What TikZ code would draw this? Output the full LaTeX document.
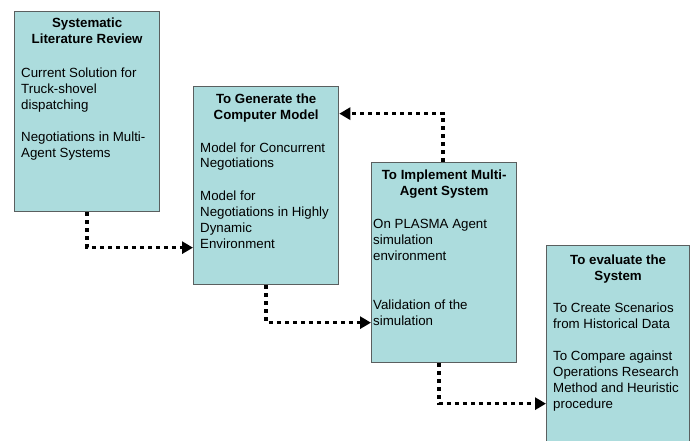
\documentclass[tikz,border=0pt]{standalone}
\usepackage{fontspec}
\setmainfont{Liberation Sans}
\usetikzlibrary{arrows.meta}
\definecolor{boxfill}{RGB}{172,220,221}
\definecolor{boxline}{RGB}{90,95,95}
\tikzset{
  stagebox/.style={draw=boxline, line width=1.3pt, fill=boxfill, anchor=north west, inner sep=0pt},
  titletext/.style={anchor=base, align=center, inner sep=0pt, font=\fontsize{13.3}{16}\selectfont\bfseries},
  bodytext/.style={anchor=base west, align=left, inner sep=0pt, font=\fontsize{13.3}{16}\selectfont},
  flow/.style={line width=3.4pt, dash pattern=on 4pt off 4pt, -{Triangle[length=11pt,width=12pt]}}
}
\begin{document}
\begin{tikzpicture}[x=1pt,y=-1pt]
\clip (0,0) rectangle (694,441);
\fill[white] (0,0) rectangle (694,441);
% boxes
\node[stagebox, minimum width=145pt, minimum height=200pt] (b1) at (14,11) {};
\node[stagebox, minimum width=145pt, minimum height=198pt] (b2) at (193,86) {};
\node[stagebox, minimum width=145pt, minimum height=200pt] (b3) at (371,162) {};
\node[stagebox, minimum width=143pt, minimum height=200pt] (b4) at (546,245) {};
% box 1
\node[titletext] (t1) at ([yshift=-33pt]b1.north) {Systematic\\Literature Review};
\node[bodytext] (p1a) at ([xshift=7pt,yshift=-99pt]b1.north west) {Current Solution for\\Truck-shovel\\dispatching};
\node[bodytext] (p1b) at ([xshift=7pt,yshift=-147pt]b1.north west) {Negotiations in Multi-\\Agent Systems};
% box 2
\node[titletext] (t2) at ([yshift=-34pt]b2.north) {To Generate the\\Computer Model};
\node[bodytext] (p2a) at ([xshift=7pt,yshift=-82pt]b2.north west) {Model for Concurrent\\Negotiations};
\node[bodytext] (p2b) at ([xshift=7pt,yshift=-162pt]b2.north west) {Model for\\Negotiations in Highly\\Dynamic\\Environment};
% box 3
\node[titletext] (t3) at ([yshift=-34pt]b3.north) {To Implement Multi-\\Agent System};
\node[bodytext] (p3a) at ([xshift=2pt,yshift=-98pt]b3.north west) {On PLASMA Agent\\simulation\\environment};
\node[bodytext] (p3b) at ([xshift=2pt,yshift=-163pt]b3.north west) {Validation of the\\simulation};
% box 4
\node[titletext] (t4) at ([yshift=-35pt]b4.north) {To evaluate the\\System};
\node[bodytext] (p4a) at ([xshift=7pt,yshift=-83pt]b4.north west) {To Create Scenarios\\from Historical Data};
\node[bodytext] (p4b) at ([xshift=7pt,yshift=-163pt]b4.north west) {To Compare against\\Operations Research\\Method and Heuristic\\procedure};
% connectors
\draw[flow] (b1.south) |- ([yshift=-62pt]b2.west);
\draw[flow] (b2.south) |- ([yshift=-60pt]b3.west);
\draw[flow] ([xshift=-5pt]b3.south) |- ([yshift=-58pt]b4.west);
\draw[flow] ([xshift=-1pt]b3.north) |- ([yshift=72pt]b2.east);
\end{tikzpicture}
\end{document}
